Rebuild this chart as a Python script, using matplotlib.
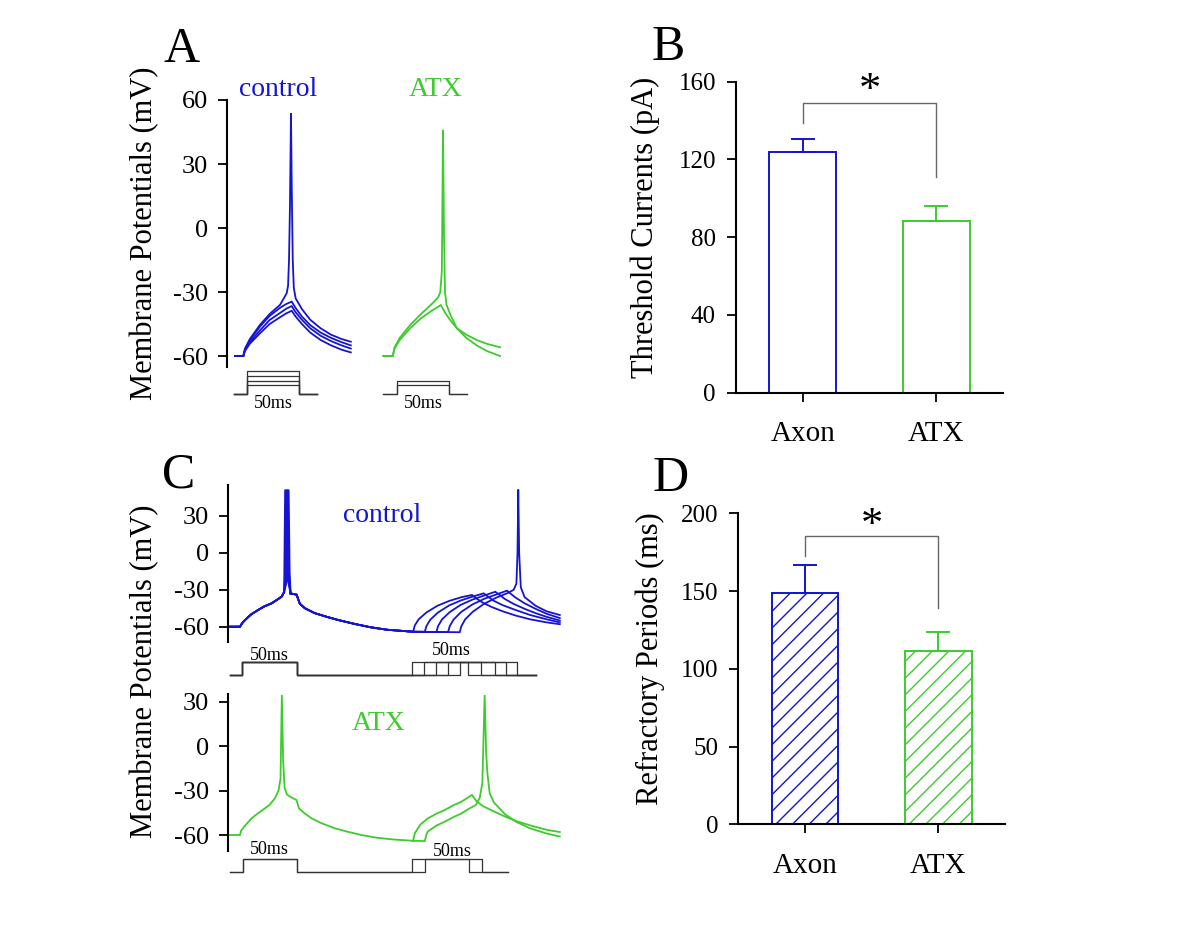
import matplotlib
matplotlib.use('Agg')
import matplotlib.pyplot as plt

plt.rcParams['font.family'] = ['Liberation Serif', 'DejaVu Serif']
plt.rcParams['axes.unicode_minus'] = False
plt.rcParams['hatch.linewidth'] = 1.0

W, H = 1200, 933
BLUE = '#1414d2'
GREEN = '#3ccc2c'
STIM = '#333333'

# ---------------- panel A: threshold traces (ms, mV) ----------------
a_ctrl_t = [7.7, 15.7, 17.3, 22, 32, 41, 51, 57, 62.2, 66, 72, 80, 90, 100, 110, 119]
a_ctrl_1 = [-60, -60, -56.8, -52.5, -46, -41.2, -37.4, -35.6, -34.5, -37.5, -41.5, -45.5, -49, -51.5, -53.5, -55]
a_ctrl_2 = [-60, -60, -57.2, -53.4, -47.8, -43.1, -39.8, -37.8, -36.6, -39.5, -43, -47, -50.5, -53, -55, -56.5]
a_ctrl_3 = [-60, -60, -57.6, -54.2, -49.2, -45, -41.8, -40, -38.8, -41.5, -45, -49, -52.5, -55, -57, -58.3]
a_ctrl_spk_t = [7.7, 15.7, 17.3, 22, 32, 41, 51, 54, 57.4, 58.7, 59.6, 60.5, 61.5, 62.2, 63.2, 64.2,
                66, 72, 80, 90, 100, 110, 119]
a_ctrl_spk_v = [-60, -60, -56.5, -52, -45.2, -40.3, -36, -33.5, -30.5, -27, -15, 10, 53.8, 20, -15, -28,
                -33, -38, -43, -47, -50, -52, -53.3]

a_atx_sub_t = [150.3, 159.3, 161, 166, 176, 186, 196, 205.5, 210, 215, 221, 230, 240, 250, 262.5]
a_atx_sub_v = [-60, -60, -56.5, -52.5, -47, -42.5, -39, -36.1, -40, -43.5, -47, -50, -52.5, -54.3, -55.9]
a_atx_spk_t = [150.3, 159.3, 161, 166, 176, 186, 196, 203, 205, 206.5, 207.6, 208.5, 209.5, 211, 215,
               221, 230, 240, 250, 262.5]
a_atx_spk_v = [-60, -60, -56, -51.5, -45.5, -40.5, -36, -32.5, -30, -20, 46, 0, -30, -36, -41,
               -47, -51.5, -55, -57.7, -60]

# stimulus steps for panel A (relative amplitude)
a_stim_ctrl = [1.0, 0.79, 0.56, 0.38]
a_stim_atx = [0.59, 0.40]
a_stim_ctrl_t = [6.7, 19.5, 69.5, 86.5]     # start, on, off, end
a_stim_atx_t = [150, 163.2, 213.5, 230.5]

# ---------------- panel C: refractory traces (ms, mV) ----------------
c_ctrl_pre_t = [0.3, 10.9, 13, 15.5, 21, 27.5, 33, 39.7, 44, 48.8, 51]
c_ctrl_pre_v = [-60, -60, -57, -54.6, -50, -46.4, -43.5, -41, -38.5, -35.6, -32]
c_ctrl_spikes_t = [[51, 51.2, 52.0, 52.9, 57],
                   [51, 52.0, 52.8, 53.7, 57],
                   [51, 52.8, 53.6, 54.5, 57],
                   [51, 53.6, 54.4, 55.3, 57],
                   [51, 54.4, 55.2, 56.1, 57]]
c_ctrl_spike_v = [-32, -20, 51.5, -15, -33]
c_ctrl_post_t = [57, 60, 62.5, 64, 65.5, 70, 79, 90, 100, 115.5, 130, 145, 168.5]
c_ctrl_post_v = [-33, -33.5, -34, -38, -41.5, -45, -49, -52, -54.5, -57.8, -60.5, -62.5, -64.1]

c_ctrl2_t = [
    [168.5, 170, 173.5, 180.5, 190.5, 201.5, 212.5, 222.1, 226, 232, 240, 250, 262, 275, 290, 302],
    [168.5, 179.1, 180.6, 184.1, 191.1, 201.1, 212.1, 223.1, 232.7, 236.5, 242, 250, 262, 275, 290, 302],
    [168.5, 189.7, 191.2, 194.7, 201.7, 211.7, 222.7, 233.7, 243.3, 247, 252, 260, 270, 280, 290, 302],
    [168.5, 200.3, 201.8, 205.3, 212.3, 222.3, 233.3, 244.3, 253.9, 257, 262, 270, 280, 290, 302],
    [168.5, 210.9, 212.4, 215.9, 222.9, 232.9, 243.9, 254.9, 260, 262.5, 263.5, 264.2, 265, 266.5,
     270, 280, 290, 302],
]
c_ctrl2_v = [
    [-64.1, -59, -54, -48.5, -43, -39, -36, -34.2, -37, -40.5, -44, -47.5, -51, -54, -56.5, -58],
    [-64.1, -64.2, -59.5, -54.3, -48.5, -42.8, -38.6, -35.4, -32.9, -35.5, -39, -42.5, -46.5, -50.5, -54, -56.5],
    [-64.1, -64.3, -59.5, -54.2, -48.2, -42.3, -37.9, -34.5, -31.6, -34, -37.5, -41.5, -45.5, -49, -52, -55],
    [-64.1, -64.4, -59.6, -54.2, -48, -42, -37.3, -33.8, -30.7, -33, -36.5, -41, -45.5, -49.5, -53],
    [-64.1, -64.5, -59.6, -54, -47.8, -41.5, -36.5, -32.5, -30, -25, 0, 51.5, 0, -28,
     -36, -43, -47.5, -50.5],
]

c_atx_pre_t = [0, 10.9, 12, 14.7, 21.5, 27, 33.6, 38, 42.7, 46, 47.8, 49, 50.2, 51.5, 53.5, 56.4,
               62.4, 64.5, 70, 76, 85, 97.3, 110, 121.5, 135, 150, 168.5]
c_atx_pre_v = [-60, -60, -57, -54.4, -48.7, -45.5, -42, -39.5, -35.2, -30, -22, 34.5, -10, -28, -32.5, -34.1,
               -36.4, -42, -45.5, -48.7, -52, -55.5, -58, -60, -61.8, -63, -63.9]
c_atx2_t = [
    [168.5, 170, 175, 182, 190, 197.3, 205, 212.5, 222.1, 226, 232, 242.7, 252, 262, 275, 290, 302],
    [168.5, 179.1, 180.5, 182, 190, 197.3, 205, 212.5, 220, 225.5, 229.1, 231.5, 233.6, 235, 236.1,
     238.2, 242, 252, 262, 275, 290, 302],
]
c_atx2_v = [
    [-63.9, -58.9, -53, -48.7, -45.5, -43.1, -40, -37.5, -33, -37, -40.5, -44.3, -47.5, -50.5, -53.5, -56.5, -58],
    [-63.9, -64.1, -60, -57.5, -53.5, -51, -48, -45.4, -42, -39.8, -35, -25, 34.5, -5, -18.4,
     -31.9, -38, -45.9, -51, -55.5, -59, -61],
]

# stimulus timing for panel C
c_stim_ctrl_first = [12.5, 62.5]
c_stim_ctrl_on = [167.9, 178.2, 189.1, 200.3, 210.9]
c_stim_ctrl_off = [218.5, 230.6, 242.7, 253.4, 263.0]
c_stim_ctrl_span = [1.8, 280.6]
c_stim_atx_first = [13.4, 62.5]
c_stim_atx_on = [167.9, 179.7]
c_stim_atx_off = [219.4, 231.2]
c_stim_atx_span = [1.8, 254.8]

# ---------------- bar panels ----------------
groups = ['Axon', 'ATX']
thr_mean = [123.7, 88.3]
thr_sem = [6.8, 7.9]
thr_sig = [138.6, 149.2, 111.1]     # left leg, bracket top, right leg
ref_mean = [148.9, 111.6]
ref_sem = [17.9, 12.1]
ref_sig = [172.5, 185.4, 138.9]


def px_rect(left, top, right, bottom):
    return [left / W, 1 - bottom / H, (right - left) / W, (bottom - top) / H]


fig = plt.figure(figsize=(12, 9.33), dpi=100)


def trace_axes(rect, xlim, ylim, yticks):
    ax = fig.add_axes(px_rect(*rect))
    ax.set_xlim(*xlim)
    ax.set_ylim(*ylim)
    for s in ['top', 'right', 'bottom']:
        ax.spines[s].set_visible(False)
    ax.spines['left'].set_linewidth(1.5)
    ax.set_xticks([])
    ax.set_yticks(yticks)
    ax.tick_params(axis='y', length=6.5, width=1.3, labelsize=19, pad=7)
    ax.patch.set_alpha(0)
    return ax


def stim_axes(rect, xlim, ylim):
    ax = fig.add_axes(px_rect(*rect))
    ax.set_xlim(*xlim)
    ax.set_ylim(*ylim)
    ax.axis('off')
    return ax


def line(ax, t, v, color, lw=1.3):
    ax.plot(t, v, color=color, lw=lw, clip_on=False, solid_joinstyle='miter')


# ----- A -----
axA = trace_axes((227, 100, 510, 366.7), (0, 272), (-65, 60), [-60, -30, 0, 30, 60])
for v in [a_ctrl_3, a_ctrl_2, a_ctrl_1]:
    line(axA, a_ctrl_t, v, BLUE)
line(axA, a_ctrl_spk_t, a_ctrl_spk_v, BLUE)
line(axA, a_atx_sub_t, a_atx_sub_v, GREEN)
line(axA, a_atx_spk_t, a_atx_spk_v, GREEN)
fig.text(278 / W, 1 - 89 / H, 'control', color=BLUE, fontsize=20, ha='center', va='center')
fig.text(435.5 / W, 1 - 89 / H, 'ATX', color=GREEN, fontsize=20, ha='center', va='center')

sA = stim_axes((227, 366, 510, 400), (0, 272), (-0.264, 1.233))
for amps, ts in [(a_stim_ctrl, a_stim_ctrl_t), (a_stim_atx, a_stim_atx_t)]:
    for a in amps:
        sA.plot([ts[0], ts[1], ts[1], ts[2], ts[2], ts[3]], [0, 0, a, a, 0, 0],
                color=STIM, lw=0.9, clip_on=False)
    sA.text((ts[1] + ts[2]) / 2, -0.4, '50ms', fontsize=13, ha='center', va='center')

# ----- C control -----
axC1 = trace_axes((228, 485, 562, 641.7), (0, 304), (-72.2, 55.2), [-60, -30, 0, 30])
for k in range(5):
    line(axC1, c_ctrl_pre_t, c_ctrl_pre_v, BLUE)
    line(axC1, c_ctrl_spikes_t[k], c_ctrl_spike_v, BLUE)
    line(axC1, c_ctrl_post_t, c_ctrl_post_v, BLUE)
    line(axC1, c_ctrl2_t[k], c_ctrl2_v[k], BLUE)
fig.text(382.5 / W, 1 - 515 / H, 'control', color=BLUE, fontsize=20, ha='center', va='center')

sC1 = stim_axes((228, 655, 562, 680), (0, 304), (-0.394, 1.575))
r1, f1 = c_stim_ctrl_first
t0, t1 = c_stim_ctrl_span
for r2, f2 in zip(c_stim_ctrl_on, c_stim_ctrl_off):
    sC1.plot([t0, r1, r1, f1, f1, r2, r2, f2, f2, t1], [0, 0, 1, 1, 0, 0, 1, 1, 0, 0],
             color=STIM, lw=0.9, clip_on=False)
sC1.text((r1 + f1) / 2, 1.55, '50ms', fontsize=13, ha='center', va='center')
sC1.text(203, 1.9, '50ms', fontsize=13, ha='center', va='center')

# ----- C ATX -----
axC2 = trace_axes((228, 694, 562, 850.7), (0, 304), (-70.6, 35.2), [-60, -30, 0, 30])
line(axC2, c_atx_pre_t, c_atx_pre_v, GREEN)
for k in range(2):
    line(axC2, c_atx2_t[k], c_atx2_v[k], GREEN)
fig.text(379 / W, 1 - 723 / H, 'ATX', color=GREEN, fontsize=20, ha='center', va='center')

sC2 = stim_axes((228, 855, 562, 880), (0, 304), (-0.592, 1.331))
r1, f1 = c_stim_atx_first
t0, t1 = c_stim_atx_span
for r2, f2 in zip(c_stim_atx_on, c_stim_atx_off):
    sC2.plot([t0, r1, r1, f1, f1, r2, r2, f2, f2, t1], [0, 0, 1, 1, 0, 0, 1, 1, 0, 0],
             color=STIM, lw=0.9, clip_on=False)
sC2.text((r1 + f1) / 2, 1.75, '50ms', fontsize=13, ha='center', va='center')
sC2.text(204, 1.6, '50ms', fontsize=13, ha='center', va='center')

fig.text(145 / W, 1 - 233 / H, 'Membrane Potentials (mV)', rotation=90, fontsize=22,
         ha='center', va='center')
fig.text(145 / W, 1 - 671 / H, 'Membrane Potentials (mV)', rotation=90, fontsize=22,
         ha='center', va='center')


# ----- bar panels -----
def bar_panel(rect, means, sems, sig, ylim, yticks, hatch, star_y):
    ax = fig.add_axes(px_rect(*rect))
    x = [0, 1]
    cols = [BLUE, GREEN]
    ax.bar(x, means, width=0.5, color='white', edgecolor=cols, linewidth=1.4,
           hatch=hatch, zorder=2)
    for i in range(2):
        ax.errorbar(x[i], means[i], yerr=[[0], [sems[i]]], color=cols[i], capsize=8.6,
                    elinewidth=1.4, capthick=1.4, zorder=3)
    ax.plot([0, 0, 1, 1], [sig[0], sig[1], sig[1], sig[2]], color='#666666', lw=1.0)
    ax.text(0.5, star_y, '*', fontsize=32, ha='center', va='center')
    ax.set_xlim(-0.5, 1.5)
    ax.set_ylim(*ylim)
    ax.set_xticks(x, groups)
    ax.set_yticks(yticks)
    for s in ['top', 'right']:
        ax.spines[s].set_visible(False)
    for s in ['left', 'bottom']:
        ax.spines[s].set_linewidth(1.5)
    ax.tick_params(axis='x', length=6.5, width=1.3, labelsize=21, pad=14)
    ax.tick_params(axis='y', length=6.5, width=1.3, labelsize=18, pad=8)
    ax.patch.set_alpha(0)
    return ax


bar_panel((736, 81.7, 1003, 392.7), thr_mean, thr_sem, thr_sig, (0, 160),
          [0, 40, 80, 120, 160], None, 155)
bar_panel((738.3, 513.3, 1005, 824.3), ref_mean, ref_sem, ref_sig, (0, 200),
          [0, 50, 100, 150, 200], '//', 192)

fig.text(645 / W, 1 - 227.5 / H, 'Threshold Currents (pA)', rotation=90, fontsize=22,
         ha='center', va='center')
fig.text(650 / W, 1 - 659 / H, 'Refractory Periods (ms)', rotation=90, fontsize=22,
         ha='center', va='center')

for lab, x, y in [('A', 181.7, 50), ('B', 668, 48), ('C', 179, 475), ('D', 670.5, 478.5)]:
    fig.text(x / W, 1 - y / H, lab, fontsize=36, ha='center', va='center')

fig.savefig('out.png', dpi=100)
